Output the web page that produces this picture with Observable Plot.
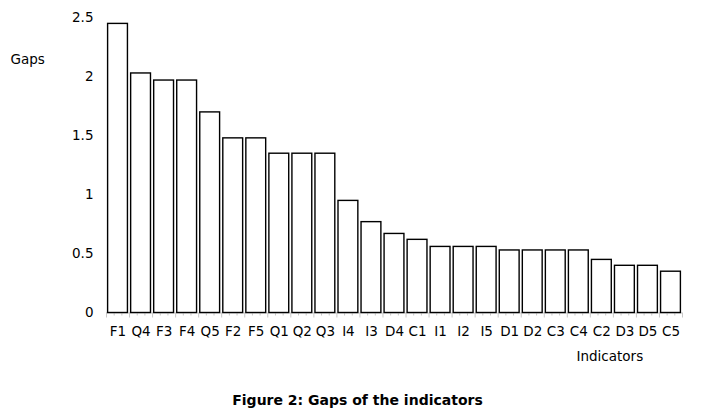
<!DOCTYPE html>
<html>
<head>
<meta charset="utf-8">
<script src="https://cdn.jsdelivr.net/npm/d3@7"></script>
<script src="https://cdn.jsdelivr.net/npm/@observablehq/plot@0.6"></script>
<style>
  html, body { margin: 0; padding: 0; background: #fff; }
  #wrap { width: 715px; position: relative; }
  #caption { font-family: "DejaVu Sans", sans-serif; font-weight: bold; font-size: 14px; text-align: center; width: 715px; margin-top: 10px; color: #000; }
</style>
</head>
<body>
<div id="wrap"></div>
<div id="caption">Figure 2: Gaps of the indicators</div>
<script>
const categories = ["F1","Q4","F3","F4","Q5","F2","F5","Q1","Q2","Q3","I4","I3","D4","C1","I1","I2","I5","D1","D2","C3","C4","C2","D3","D5","C5"];
const gaps = [2.45,2.03,1.97,1.97,1.70,1.48,1.48,1.35,1.35,1.35,0.95,0.77,0.67,0.62,0.56,0.56,0.56,0.53,0.53,0.53,0.53,0.45,0.40,0.40,0.35];
const yTicks = [0, 0.5, 1, 1.5, 2, 2.5];
const yLabel = "Gaps";
const xLabel = "Indicators";

const rows = categories.map((c, i) => ({cat: c, i, gap: gaps[i]}));
const n = categories.length;
const majorTicks = d3.range(0, n + 1);
const minorTicks = d3.range(0, n).flatMap(i => [i + 1/3, i + 2/3]);
const labelTicks = d3.range(0, n).map(i => i + 0.5);

const font = "DejaVu Sans, sans-serif";

const chart = Plot.plot({
  width: 715,
  height: 382,
  marginLeft: 106,
  marginRight: 33,
  marginTop: 17.5,
  marginBottom: 69.5,
  style: {fontFamily: font, fontSize: "13.5px", color: "#000", background: "#fff"},
  x: {type: "linear", domain: [0, n]},
  y: {domain: [0, 2.5]},
  marks: [
    Plot.ruleY([0], {stroke: "#c8c8c8", strokeWidth: 1}),
    Plot.axisX({ticks: minorTicks, tickSize: 3, tickFormat: () => "", stroke: "#c8c8c8", label: null}),
    Plot.axisX({ticks: majorTicks, tickSize: 5, tickFormat: () => "", stroke: "#c8c8c8", label: null}),
    Plot.axisX({ticks: labelTicks, tickSize: 0, tickPadding: 13.5, tickFormat: d => categories[Math.floor(d)], fontSize: 13.5, fill: "#000", label: null}),
    Plot.axisY({ticks: yTicks, tickSize: 0, tickPadding: 13, tickFormat: d => String(d), fontSize: 13.5, fill: "#000", label: null}),
    Plot.rectY(rows, {x1: d => d.i, x2: d => d.i + 1, y: "gap", insetLeft: 1.6, insetRight: 1.6, fill: "white", stroke: "black", strokeWidth: 1.4}),
    Plot.text([yLabel], {frameAnchor: "top-left", dx: -96, dy: 36, textAnchor: "start", fontSize: 13.5, fill: "#000"}),
    Plot.text([xLabel], {frameAnchor: "bottom-right", dx: -106, dy: 47.5, textAnchor: "start", fontSize: 13.5, fill: "#000"})
  ]
});
document.getElementById("wrap").appendChild(chart);
</script>
</body>
</html>
